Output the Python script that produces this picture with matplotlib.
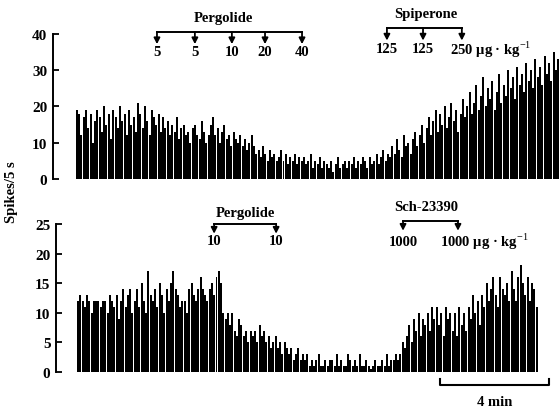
import matplotlib.pyplot as plt
import matplotlib.transforms as mtransforms
import numpy as np

# ── 数据：每 5 s 放电计数 ─────────────────────────
top_counts = [
    19, 18, 12, 17, 19, 14, 18, 10, 16, 19, 17, 13, 20, 15, 18, 11, 19, 17, 14, 20,
    16, 18, 12, 19, 15, 17, 13, 21, 18, 14, 20, 16, 12, 19, 17, 15, 18, 13, 17, 14,
    16, 12, 15, 13, 17, 11, 14, 15, 12, 13, 10, 14, 15, 12, 11, 16, 13, 10, 12, 15,
    17, 12, 14, 10, 13, 15, 11, 12, 9, 13, 11, 10, 12, 9, 11, 8, 10, 12, 9, 7,
    8, 6, 9, 7, 5, 8, 6, 7, 5, 6, 8, 5, 7, 4, 6, 5, 7, 4, 6, 5,
    6, 4, 5, 7, 3, 5, 4, 6, 3, 5, 4, 3, 5, 2, 4, 6, 3, 4, 5, 3,
    5, 4, 6, 3, 5, 4, 6, 5, 3, 6, 4, 5, 7, 4, 6, 8, 5, 7, 6, 9,
    7, 11, 8, 6, 12, 9, 10, 7, 11, 13, 9, 12, 15, 10, 14, 17, 12, 16, 19, 13,
    18, 15, 20, 14, 17, 21, 16, 19, 13, 18, 22, 17, 20, 24, 18, 21, 26, 19, 23, 28,
    20, 25, 22, 27, 19, 24, 29, 21, 26, 23, 30, 25, 28, 22, 31, 26, 29, 24, 32, 27,
    30, 25, 33, 28, 31, 26, 34, 29, 32, 27, 35, 30, 33,
]

bottom_counts = [
    12, 13, 12, 11, 13, 12, 10, 12, 12, 12,
    11, 12, 12, 10, 13, 12, 11, 13, 9, 12,
    14, 11, 13, 14, 10, 12, 14, 11, 15, 12,
    10, 17, 13, 12, 14, 11, 15, 13, 10, 14,
    12, 15, 17, 14, 13, 11, 12, 12, 10, 14,
    15, 13, 12, 14, 16, 14, 13, 12, 14, 15,
    13, 16, 17, 15, 10, 9, 10, 8, 10, 7,
    6, 9, 8, 6, 7, 5, 7, 6, 7, 5,
    8, 6, 7, 5, 6, 4, 5, 6, 4, 5,
    3, 5, 4, 3, 4, 2, 3, 4, 2, 3,
    2, 3, 1, 2,
    1, 2, 3, 1, 1, 2, 1, 2, 2, 1, 3, 1, 2, 1, 1, 3, 2, 1, 2, 1,
    3, 1, 1, 2, 1, 0.5, 1, 2, 1, 1, 2, 1, 3, 1, 2, 2, 3, 2,
    3, 5, 4, 6, 8, 5,
    9, 7, 10, 6, 9, 8, 10, 7, 11,
    9, 11, 8, 10, 6, 11, 9, 10,
    7, 10, 6, 11, 8, 10, 7, 11, 9,
    13, 10, 12, 8, 13, 11,
    15, 12, 14, 16, 13, 11, 16, 14,
    13, 15, 12, 17, 14, 12, 16, 18, 15,
    13, 16, 12, 15, 14, 11,
]

# 给药时刻（单位：5 s 计数窗）与剂量标注
top_perg_bins = [35.7, 52.4, 68.7, 83.3, 99.6]
top_perg_doses = ["5", "5", "10", "20", "40"]
top_spip_bins = [137.0, 152.9, 170.0]
top_spip_doses = ["125", "125", "250 µg · kg$^{-1}$"]
bot_perg_bins = [60.4, 87.7]
bot_perg_doses = ["10", "10"]
bot_sch_bins = [143.6, 167.8]
bot_sch_doses = ["1000", "1000 µg · kg$^{-1}$"]
scale_bins = [160, 208]  # 48 × 5 s = 4 min

FONT = "Liberation Serif"
plt.rcParams["font.family"] = [FONT, "DejaVu Serif"]
plt.rcParams["mathtext.fontset"] = "custom"
plt.rcParams["mathtext.rm"] = FONT

fig = plt.figure(figsize=(5.59, 4.10), dpi=100)
ax_top = fig.add_axes([0.0948, 0.561, 0.9052, 0.3537])
ax_bot = fig.add_axes([0.1002, 0.0902, 0.8998, 0.361])


def draw_hist(ax, counts, ymax, step, xlim):
    x = np.arange(len(counts))
    ax.bar(x, counts, width=0.88, align="edge", color="black", linewidth=0)
    ax.set_xlim(*xlim)
    ax.set_ylim(0, ymax)
    ax.set_yticks(np.arange(0, ymax + 1, step))
    for s in ["top", "right", "bottom"]:
        ax.spines[s].set_visible(False)
    ax.spines["left"].set_linewidth(1.4)
    ax.set_xticks([])
    ax.tick_params(axis="y", direction="in", length=4, width=1.3, pad=4,
                   labelsize=11)
    for lab in ax.get_yticklabels():
        lab.set_fontweight("bold")


def draw_bracket(ax, bins, doses, name, line_y, tip_y, lab_y, name_y,
                 name_x=None, unit_shift=5.0):
    trans = mtransforms.blended_transform_factory(ax.transData, ax.transAxes)
    ax.plot([bins[0], bins[-1]], [line_y, line_y], color="black", lw=1.4,
            transform=trans, clip_on=False)
    for b, d in zip(bins, doses):
        ax.annotate("", xy=(b, tip_y), xytext=(b, line_y), xycoords=trans,
                    textcoords=trans,
                    arrowprops=dict(arrowstyle="-|>,head_width=0.18,head_length=0.35",
                                    color="black", lw=1.3, shrinkA=0, shrinkB=0))
        ha = "left" if "µg" in d else "center"
        xx = b - unit_shift if ha == "left" else b
        ax.text(xx, lab_y, d, transform=trans, ha=ha, va="center",
                fontsize=10.5, fontweight="bold")
    cx = name_x if name_x is not None else (bins[0] + bins[-1]) / 2
    ax.text(cx, name_y, name, transform=trans, ha="center", va="center",
            fontsize=10.5, fontweight="bold")


# ── 上图：Pergolide + Spiperone ─────────────────
draw_hist(ax_top, top_counts, 40, 10, (-10.1, 212.8))
draw_bracket(ax_top, top_perg_bins, top_perg_doses, "Pergolide",
             1.014, 0.93, 0.88, 1.117, name_x=65)
draw_bracket(ax_top, top_spip_bins, top_spip_doses, "Spiperone",
             1.041, 0.955, 0.90, 1.138, name_x=154, unit_shift=5.3)

# ── 下图：Pergolide + Sch-23390 ─────────────────
draw_hist(ax_bot, bottom_counts, 25, 5, (-9.25, 212.3))
draw_bracket(ax_bot, bot_perg_bins, bot_perg_doses, "Pergolide",
             1.0, 0.935, 0.89, 1.081, name_x=74)
draw_bracket(ax_bot, bot_sch_bins, bot_sch_doses, "Sch-23390",
             1.02, 0.955, 0.885, 1.12, name_x=154, unit_shift=8.0)

# ── 时间标尺 ───────────────────────────────────
trans = mtransforms.blended_transform_factory(ax_bot.transData, ax_bot.transAxes)
ax_bot.plot([scale_bins[0], scale_bins[0], scale_bins[1], scale_bins[1]],
            [-0.05, -0.088, -0.088, -0.05], color="black", lw=1.5,
            transform=trans, clip_on=False)
ax_bot.text(sum(scale_bins) / 2, -0.196, "4 min", transform=trans,
            ha="center", va="center", fontsize=10.5, fontweight="bold")

fig.text(0.02, 0.532, "Spikes/5 s", rotation=90, ha="center", va="center",
         fontsize=10.5, fontweight="bold")

fig.savefig("out.png", dpi=100)
